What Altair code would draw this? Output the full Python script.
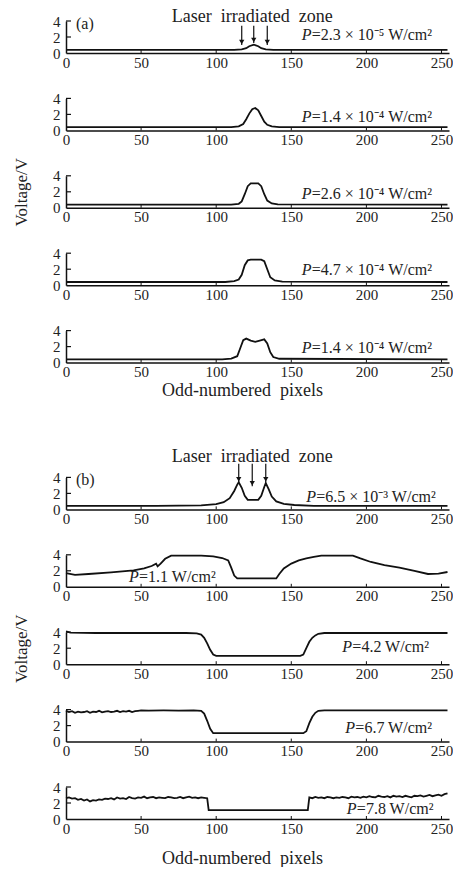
import altair as alt
import pandas as pd

FONT = "Liberation Serif"
INK = "#111111"
W, H = 383, 32
X_TICKS = [0, 50, 100, 150, 200, 250]
Y_TICKS = [0, 2, 4]

# ---------------- (a) panels ----------------
a1_x = [0, 112, 117, 120, 122, 125, 128, 130, 133, 138, 254]
a1_y = [0.4, 0.4, 0.45, 0.6, 0.85, 1.05, 0.85, 0.6, 0.45, 0.4, 0.4]

a2_x = [0, 110, 115, 118, 120, 122, 124, 126, 128, 130, 132, 134, 137, 142, 254]
a2_y = [0.4, 0.4, 0.5, 0.8, 1.4, 2.1, 2.65, 2.8, 2.5, 1.8, 1.1, 0.7, 0.5, 0.42, 0.4]

a3_x = [0, 110, 115, 117, 119, 121, 123, 128, 130, 132, 134, 137, 141, 254]
a3_y = [0.4, 0.4, 0.5, 0.8, 1.7, 2.7, 3.05, 3.05, 2.7, 1.7, 0.9, 0.55, 0.42, 0.4]

a4_x = [0, 106, 112, 115, 117, 119, 121, 123, 130, 132, 134, 136, 139, 144, 254]
a4_y = [0.4, 0.4, 0.5, 0.7, 1.3, 2.5, 3.1, 3.2, 3.2, 3.0, 2.0, 1.0, 0.6, 0.45, 0.4]

a5_x = [0, 104, 110, 114, 116, 118, 120, 123, 126, 129, 132, 134, 136, 138, 142, 254]
a5_y = [0.4, 0.4, 0.5, 0.8, 1.8, 2.8, 3.0, 2.75, 2.6, 2.75, 2.9, 2.4, 1.3, 0.7, 0.48, 0.4]

# ---------------- (b) panels ----------------
b1_x = [0, 60, 90, 100, 105, 109, 112, 114, 115, 117, 119, 121, 128, 130, 132, 133,
        135, 137, 140, 145, 152, 165, 254]
b1_y = [0.45, 0.45, 0.5, 0.65, 0.9, 1.4, 2.3, 3.1, 3.4, 2.7, 1.7, 1.2, 1.2, 1.7, 2.8, 3.3,
        2.5, 1.6, 1.0, 0.7, 0.55, 0.45, 0.45]

b2_x = [0, 6, 15, 30, 45, 52, 57, 60, 61, 63, 66, 70, 80, 90, 98, 104, 108, 110, 112, 114,
        140, 142, 145, 150, 155, 160, 165, 170, 180, 191, 196, 203, 212, 222, 232, 241, 248, 254]
b2_y = [1.7, 1.5, 1.6, 1.8, 2.05, 2.3, 2.6, 2.9, 2.55, 2.9, 3.5, 3.9, 3.9, 3.9, 3.8, 3.6, 3.3, 2.4, 1.4, 1.05,
        1.05, 1.6, 2.3, 2.9, 3.3, 3.55, 3.75, 3.9, 3.9, 3.9, 3.55, 3.1, 2.7, 2.4, 2.0, 1.6, 1.65, 1.85]

b3_x = [0, 3, 20, 40, 60, 80, 87, 90, 92, 94, 96, 98, 100, 156, 158, 160, 162, 164, 166,
        168, 172, 200, 254]
b3_y = [4.1, 3.95, 3.9, 3.9, 3.9, 3.9, 3.85, 3.7, 3.3, 2.6, 1.8, 1.2, 1.05, 1.05, 1.2, 2.0, 2.8, 3.3, 3.6,
        3.8, 3.9, 3.9, 3.9]

b4_x = [0, 2, 4, 6, 8, 10, 12, 14, 16, 18, 20, 22, 24, 26, 28, 30, 32, 34, 36, 38, 40, 42, 44, 46, 48, 50,
        55, 65, 75, 85, 90, 92, 94, 96, 98, 158, 160, 162, 164, 166, 168, 172, 200, 254]
b4_y = [3.85, 3.7, 3.8, 3.6, 3.75, 3.65, 3.7, 3.8, 3.6, 3.75, 3.7, 3.85, 3.65, 3.75, 3.8, 3.7, 3.75, 3.85,
        3.7, 3.8, 3.75, 3.85, 3.7, 3.8, 3.85, 3.9,
        3.88, 3.9, 3.88, 3.9, 3.85, 3.5, 2.6, 1.6, 1.05, 1.05, 1.3, 2.3, 3.1, 3.6, 3.85, 3.9, 3.9, 3.9]

b5_x = [0, 2, 4, 6, 8, 10, 12, 14, 16, 18, 20, 22, 24, 26, 28, 30, 32, 34, 36, 38, 40, 42, 44, 46,
        48, 50, 52, 54, 56, 58, 60, 62, 64, 66, 68, 70, 72, 74, 76, 78, 80, 82, 84, 86, 88, 90, 92, 94,
        95, 161,
        162, 164, 166, 168, 170, 172, 174, 176, 178, 180, 182, 184, 186, 188, 190, 192, 194, 196, 198,
        200, 202, 204, 206, 208, 210, 212, 214, 216, 218, 220, 222, 224, 226, 228, 230, 232, 234, 236,
        238, 240, 242, 244, 246, 248, 250, 252, 254]
b5_y = [2.6, 2.7, 2.55, 2.6, 2.4, 2.5, 2.3, 2.45, 2.2, 2.35,
        2.3, 2.45, 2.4, 2.55, 2.5, 2.6, 2.45, 2.7, 2.55, 2.6,
        2.5, 2.75, 2.6, 2.55, 2.7, 2.65, 2.8, 2.6, 2.7, 2.75,
        2.6, 2.7, 2.65, 2.6, 2.75, 2.7, 2.6, 2.65, 2.75, 2.6,
        2.7, 2.8, 2.65, 2.7, 2.6, 2.7, 2.65, 2.6,
        1.1, 1.1,
        2.7, 2.6, 2.75, 2.65, 2.7, 2.6, 2.75, 2.7, 2.6, 2.7,
        2.65, 2.75, 2.7, 2.6, 2.8, 2.7, 2.75, 2.65, 2.8, 2.7,
        2.85, 2.75, 2.7, 2.9, 2.8, 2.75, 2.85, 2.7, 2.9, 2.8,
        2.85, 2.75, 2.9, 2.8, 2.7, 2.9, 2.85, 2.95, 2.8, 2.9,
        3.0, 2.85, 2.95, 3.05, 2.9, 3.1, 3.2]

# annotation texts
a_labels = ["=2.3 × 10⁻⁵ W/cm²", "=1.4 × 10⁻⁴ W/cm²", "=2.6 × 10⁻⁴ W/cm²",
            "=4.7 × 10⁻⁴ W/cm²", "=1.4 × 10⁻⁴ W/cm²"]
b_labels = ["=6.5 × 10⁻³ W/cm²", "=1.1 W/cm²", "=4.2 W/cm²", "=6.7 W/cm²", "=7.8 W/cm²"]
a_label_pos = [(157, 2.3), (157, 1.7), (157, 1.7), (157, 1.9), (157, 1.8)]
b_label_pos = [(160, 1.5), (42, 1.2), (184, 2.2), (186, 1.7), (187, 1.2)]

zone_title = "Laser\u2002irradiated\u2002zone"
x_title = "Odd-numbered\u2002pixels"
y_title = "Voltage/V"
blank_title = "\u00a0"
a_arrow_x = [117, 125, 134]
a_arrow_top = [3.4, 3.4, 3.4]
a_arrow_tip = [1.0, 1.25, 1.0]
b_arrow_x = [115, 124, 133]
b_arrow_top = [5.7, 5.7, 5.7]
b_arrow_tip = [3.4, 2.9, 3.4]

XS = alt.Scale(domain=[0, 255], nice=False, zero=False)
YS = alt.Scale(domain=[0, 4], nice=False, zero=False)


def panel(xs, ys, label, lpos, show_ytitle, xtitle_pad=None, tag=None, arrows=None, title_dy=None):
    xkw = dict(values=X_TICKS, ticks=False, grid=False, domainColor=INK, domainWidth=1.5,
               labelFont=FONT, labelFontSize=15, labelColor="#222", labelPadding=2,
               labelFlush=False, labelOverlap=False,
               titleFont=FONT, titleFontSize=18, titleFontWeight="normal",
               titleColor="#222", titlePadding=xtitle_pad if xtitle_pad is not None else 7,
               titleX=176)
    ykw = dict(values=Y_TICKS, ticks=False, grid=False, domainColor=INK, domainWidth=1.5,
               labelFont=FONT, labelFontSize=15, labelColor="#222", labelPadding=6,
               labelFlush=False, labelOverlap=False, labelBaseline="middle",
               titleFont=FONT, titleFontSize=17, titleFontWeight="normal", titleColor="#222",
               titlePadding=22)
    ytitle = y_title if show_ytitle else blank_title

    def X(field):
        if xtitle_pad is not None:
            return alt.X(field, type="quantitative", scale=XS, axis=alt.Axis(**xkw), title=x_title)
        return alt.X(field, type="quantitative", scale=XS, axis=alt.Axis(**xkw), title=None)

    def Y(field):
        return alt.Y(field, type="quantitative", scale=YS, axis=alt.Axis(**ykw), title=ytitle)

    df = pd.DataFrame({"x": xs, "y": ys})
    line = alt.Chart(df).mark_line(color=INK, strokeWidth=1.8).encode(x=X("x"), y=Y("y"))

    xt = pd.DataFrame({"x": X_TICKS[1:]})
    xticks = alt.Chart(xt).mark_rule(color=INK, strokeWidth=1).encode(
        x=X("x"), y=alt.value(H), y2=alt.value(H - 3))
    yt = pd.DataFrame({"y": Y_TICKS[1:]})
    yticks = alt.Chart(yt).mark_rule(color=INK, strokeWidth=1.2).encode(
        y=Y("y"), x=alt.value(0), x2=alt.value(5))

    ldf = pd.DataFrame({"x": [lpos[0]], "y": [lpos[1]], "t": [label]})
    p_txt = alt.Chart(ldf).mark_text(text="P", font=FONT, fontSize=16, fontStyle="italic",
                                     align="left", baseline="middle", color="#222").encode(
        x=X("x"), y=Y("y"))
    rest_txt = alt.Chart(ldf).mark_text(font=FONT, fontSize=16, align="left", baseline="middle",
                                        dx=10, color="#222").encode(
        x=X("x"), y=Y("y"), text="t:N")
    layers = [line, xticks, yticks, p_txt, rest_txt]

    if tag is not None:
        tdf = pd.DataFrame({"t": [tag]})
        layers.append(alt.Chart(tdf).mark_text(font=FONT, fontSize=16, align="left",
                                               baseline="middle", color="#222").encode(
            text="t:N", x=alt.value(10), y=alt.value(3)))
    if arrows is not None:
        adf = pd.DataFrame({"x": arrows[0], "top": arrows[1], "tip": arrows[2]})
        layers.append(alt.Chart(adf).mark_rule(color=INK, strokeWidth=1.2).encode(
            x=X("x"), y=Y("top"), y2="tip:Q"))
        layers.append(alt.Chart(adf).mark_point(shape="triangle-down", filled=True, size=28,
                                                color=INK, opacity=1, yOffset=-3).encode(
            x=X("x"), y=Y("tip")))
        zdf = pd.DataFrame({"x": [124], "t": [zone_title]})
        layers.append(alt.Chart(zdf).mark_text(font=FONT, fontSize=18, align="center",
                                               baseline="alphabetic", color="#222").encode(
            x=X("x"), y=alt.value(title_dy), text="t:N"))
    return alt.layer(*layers).properties(width=W, height=H)


a_data = [(a1_x, a1_y), (a2_x, a2_y), (a3_x, a3_y), (a4_x, a4_y), (a5_x, a5_y)]
b_data = [(b1_x, b1_y), (b2_x, b2_y), (b3_x, b3_y), (b4_x, b4_y), (b5_x, b5_y)]

panels = []
for i, (xs, ys) in enumerate(a_data):
    panels.append(panel(xs, ys, a_labels[i], a_label_pos[i], show_ytitle=(i == 2),
                        xtitle_pad=2 if i == 4 else None, tag="(a)" if i == 0 else None,
                        arrows=(a_arrow_x, a_arrow_top, a_arrow_tip) if i == 0 else None,
                        title_dy=1))

# empty gap between the (a) and (b) groups
spacer = alt.Chart(pd.DataFrame({"v": [0]})).mark_point(opacity=0).encode(
    x=alt.value(0), y=alt.value(0)).properties(width=W, height=23.6)
panels.append(spacer)

for i, (xs, ys) in enumerate(b_data):
    panels.append(panel(xs, ys, b_labels[i], b_label_pos[i], show_ytitle=(i == 2),
                        xtitle_pad=13 if i == 4 else None, tag="(b)" if i == 0 else None,
                        arrows=(b_arrow_x, b_arrow_top, b_arrow_tip) if i == 0 else None,
                        title_dy=-15))

chart = alt.vconcat(*panels, spacing=45.4, bounds="flush").properties(
    padding={"left": 4, "top": 0, "right": 0, "bottom": 0}
).configure_view(stroke=None)

chart.save("out.html", embed_options={"renderer": "svg", "actions": False})
